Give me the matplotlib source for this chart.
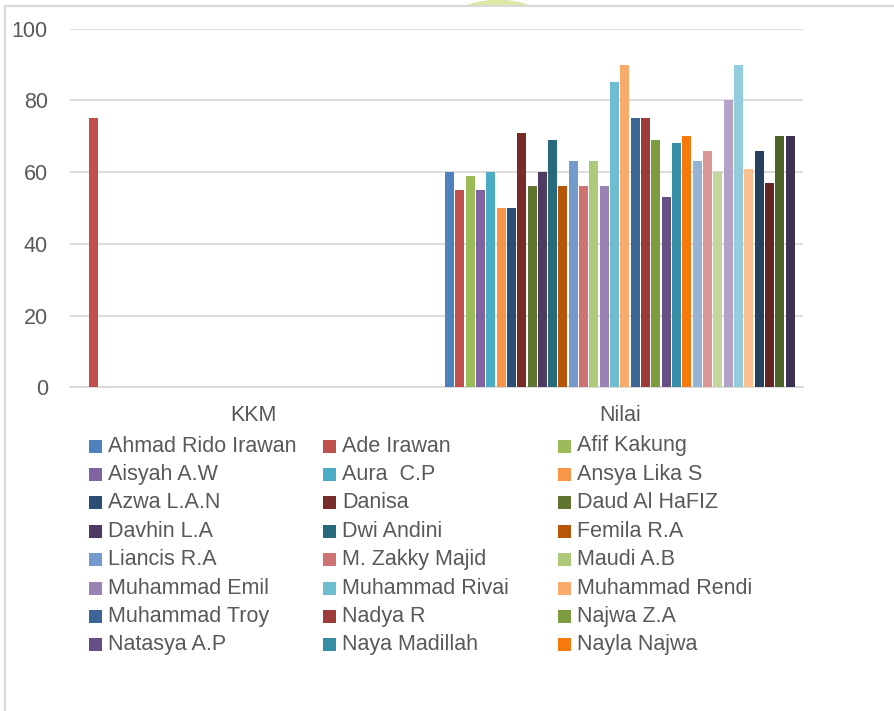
import numpy as np
import matplotlib
matplotlib.use("Agg")
import matplotlib.pyplot as plt
from matplotlib.patches import Rectangle, Circle

plt.rcParams['font.family'] = ['Liberation Sans', 'DejaVu Sans']

categories = ['KKM', 'Nilai']

# legend only shows the first 24 students, the chart has 34 series
names = ['Ahmad Rido Irawan', 'Ade Irawan', 'Afif Kakung',
         'Aisyah A.W', 'Aura  C.P', 'Ansya Lika S',
         'Azwa L.A.N', 'Danisa', 'Daud Al HaFIZ',
         'Davhin L.A', 'Dwi Andini', 'Femila R.A',
         'Liancis R.A', 'M. Zakky Majid', 'Maudi A.B',
         'Muhammad Emil', 'Muhammad Rivai', 'Muhammad Rendi',
         'Muhammad Troy', 'Nadya R', 'Najwa Z.A',
         'Natasya A.P', 'Naya Madillah', 'Nayla Najwa']

kkm = [0, 75, 0, 0, 0, 0, 0, 0, 0, 0, 0, 0, 0, 0, 0, 0, 0,
       0, 0, 0, 0, 0, 0, 0, 0, 0, 0, 0, 0, 0, 0, 0, 0, 0]
nilai = [60, 55, 59, 55, 60, 50, 50, 71, 56, 60, 69, 56, 63, 56, 63, 56, 85,
         90, 75, 75, 69, 53, 68, 70, 63, 66, 60, 80, 90, 61, 66, 57, 70, 70]

colors = ['#4F81BD', '#C0504D', '#9BBB59', '#8064A2', '#4BACC6', '#F79646',
          '#2C4D75', '#772C2A', '#5F7530', '#4D3B62', '#276A7C', '#B65708',
          '#729ACA', '#CD7371', '#AFC97A', '#9983B5', '#6FBDD1', '#F9AB6B',
          '#3A6595', '#9C3B39', '#7D9C3F', '#664F85', '#358EA6', '#F5790B',
          '#95B3D7', '#D99694', '#C3D69B', '#B3A2C7', '#93CDDD', '#FAC090',
          '#254061', '#632523', '#4F6228', '#3F3151']

W, H = 894, 711
txt = '#595959'
grid = '#D9D9D9'
fs = 15.5

fig = plt.figure(figsize=(W / 100, H / 100), dpi=100)

# faint watermark peeking above the chart frame
fig.add_artist(Circle((498 / W, 1 - 60 / H), 75 / W, color='#DCE8A6',
                      transform=fig.transFigure, zorder=0))
fig.add_artist(Rectangle((5 / W, -0.1), 1.1, 1 - 6 / H + 0.1, transform=fig.transFigure,
                         facecolor='white', edgecolor=grid, lw=1.5, zorder=0.5))

ax = fig.add_axes([70 / W, 1 - 387.3 / H, 733 / W, 358.6 / H])
ax.set_zorder(2)
ax.set_facecolor('none')

n = len(nilai)
pitch = 0.02816
width = 0.02456
x = np.arange(len(categories))
for i in range(n):
    off = (i - (n - 1) / 2) * pitch
    ax.bar(x + off, [kkm[i], nilai[i]], width, color=colors[i], zorder=3)

ax.set_xlim(-0.5, 1.5)
ax.set_ylim(0, 100)
ax.set_yticks(range(0, 101, 20))
ax.set_xticks(x)
ax.set_xticklabels(categories)
ax.yaxis.grid(True, color=grid, lw=1.3, zorder=0)
for s in ['left', 'right', 'top']:
    ax.spines[s].set_visible(False)
ax.spines['bottom'].set_color(grid)
ax.spines['bottom'].set_linewidth(1.3)
ax.tick_params(axis='both', length=0, labelsize=fs, labelcolor=txt)
ax.tick_params(axis='y', pad=16)
ax.tick_params(axis='x', pad=13)

# legend, 3 columns of equal width like Excel
col_x = [89, 323, 558]
row_y0, row_dy = 446, 28.4
sq = 13
for k, name in enumerate(names):
    c, r = k % 3, k // 3
    yc = row_y0 + r * row_dy
    fig.add_artist(Rectangle((col_x[c] / W, 1 - (yc + sq / 2) / H), sq / W, sq / H,
                             transform=fig.transFigure, facecolor=colors[k],
                             edgecolor='none', zorder=3))
    fig.text((col_x[c] + 19) / W, 1 - yc / H, name, fontsize=fs, color=txt,
             va='center', ha='left', zorder=3)

fig.savefig('out.png', dpi=100)
